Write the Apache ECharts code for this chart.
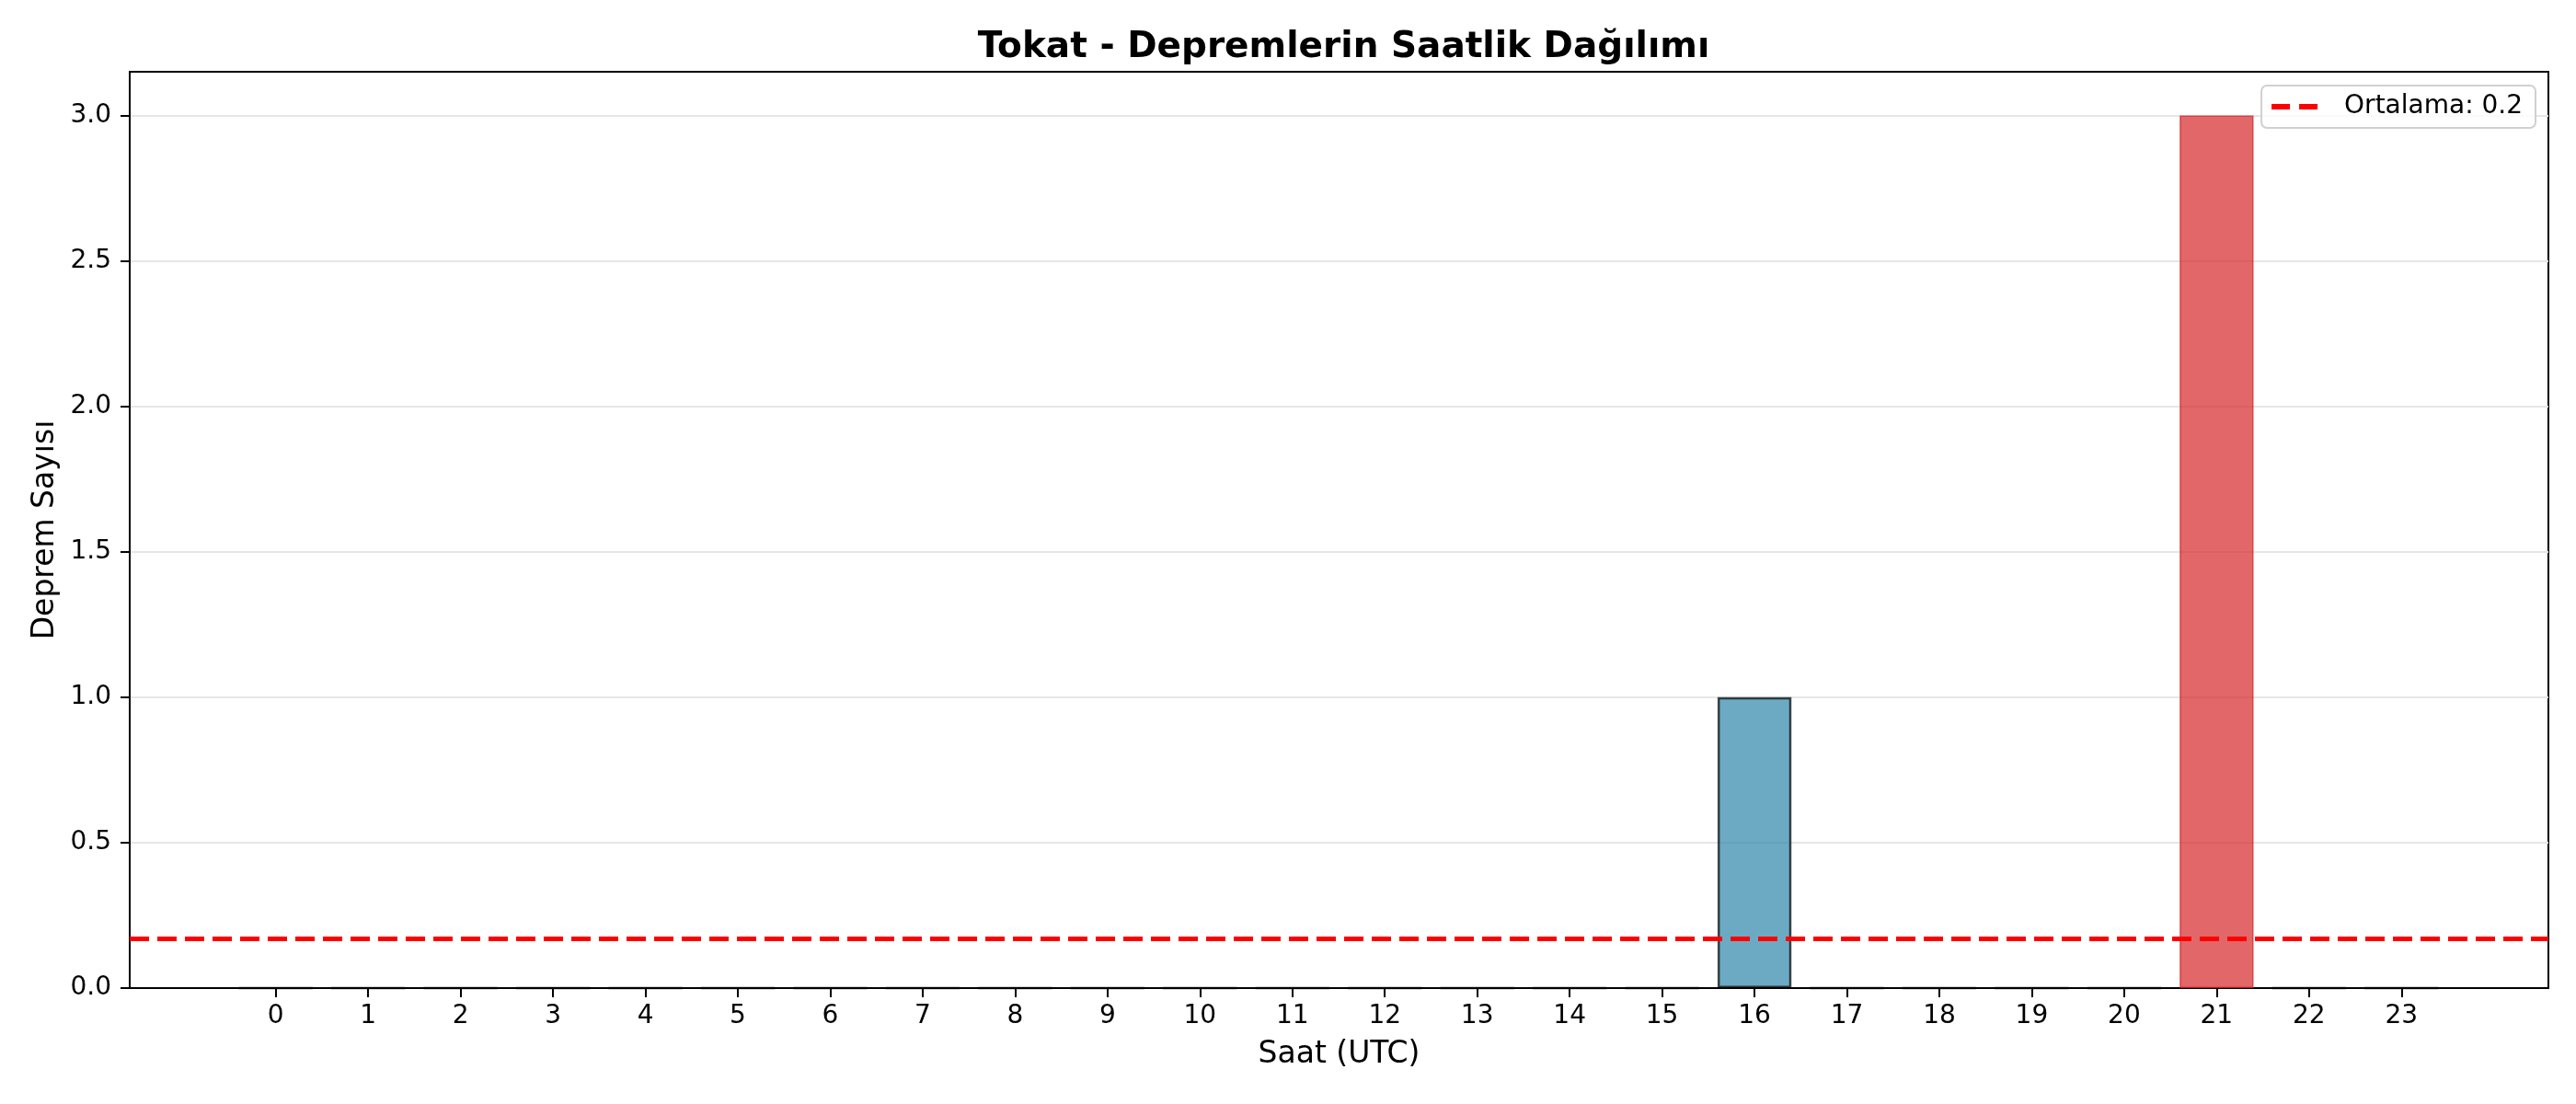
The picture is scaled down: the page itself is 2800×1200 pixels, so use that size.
<!DOCTYPE html>
<html>
<head>
<meta charset="utf-8">
<script src="https://cdn.jsdelivr.net/npm/echarts@6/dist/echarts.min.js"></script>
<style>
  html, body { margin: 0; padding: 0; background: #ffffff; }
  #chart { width: 2800px; height: 1200px; }
</style>
</head>
<body>
<div id="chart"></div>
<script>
// ---- data ----
const titleText = 'Tokat - Depremlerin Saatlik Dağılımı';
const xAxisName = 'Saat (UTC)';
const yAxisName = 'Deprem Sayısı';
const hours = [0,1,2,3,4,5,6,7,8,9,10,11,12,13,14,15,16,17,18,19,20,21,22,23];
const counts = [0,0,0,0,0,0,0,0,0,0,0,0,0,0,0,0,1,0,0,0,0,3,0,0];
const meanValue = 4 / 24;
const meanLabel = 'Ortalama: 0.2';
const yTicks = [0, 0.5, 1.0, 1.5, 2.0, 2.5, 3.0];

// ---- styles ----
const FONT = 'DejaVu Sans';
const X_MIN = -1.58, X_MAX = 24.59;
const GRID = { left: 141, right: 30, top: 78, bottom: 126 };
const plotW = 2800 - GRID.left - GRID.right;
const barPx = 0.8 * plotW / (X_MAX - X_MIN);
const maxCount = Math.max(...counts);

const normalStyle = { color: 'rgba(46,134,171,0.7)', borderColor: 'rgba(0,0,0,0.7)', borderWidth: 2.5 };
const maxStyle = { color: 'rgba(214,39,40,0.7)', borderColor: 'rgba(214,39,40,0.75)', borderWidth: 1.5 };

const barData = hours.map((h, i) => ({
  value: [h, counts[i]],
  itemStyle: counts[i] === maxCount ? maxStyle : normalStyle
}));

const dashIcon = 'path://M0,0H20V6H0Z M30,0H50V6H30Z';

const chart = echarts.init(document.getElementById('chart'), null, { renderer: 'canvas' });
chart.setOption({
  backgroundColor: '#ffffff',
  animation: false,
  title: {
    text: titleText,
    left: GRID.left + plotW / 2,
    textAlign: 'center',
    top: 27,
    textStyle: { fontFamily: FONT, fontSize: 39, fontWeight: 'bold', color: '#000' }
  },
  legend: {
    right: 44,
    top: 93,
    orient: 'vertical',
    data: [{ name: meanLabel, icon: dashIcon, itemStyle: { color: '#ff0000' } }],
    itemWidth: 50,
    itemHeight: 6,
    padding: [9, 14, 9, 11],
    borderColor: '#d0d0d0',
    borderWidth: 2,
    borderRadius: 6,
    backgroundColor: 'rgba(255,255,255,0.8)',
    textStyle: { fontFamily: FONT, fontSize: 28, color: '#000', padding: [0, 0, 0, 24] }
  },
  grid: {
    left: GRID.left, right: GRID.right, top: GRID.top, bottom: GRID.bottom,
    show: true, borderColor: '#000', borderWidth: 2, backgroundColor: 'transparent'
  },
  xAxis: {
    type: 'value',
    min: X_MIN,
    max: X_MAX,
    name: xAxisName,
    nameLocation: 'middle',
    nameGap: 56,
    nameTextStyle: { fontFamily: FONT, fontSize: 33, color: '#000' },
    axisLine: { show: true, onZero: false, lineStyle: { color: '#000', width: 2 } },
    axisTick: { show: true, length: 10, lineStyle: { color: '#000', width: 2 }, customValues: hours },
    axisLabel: { fontFamily: FONT, fontSize: 28, color: '#000', margin: 17, customValues: hours },
    splitLine: { show: false }
  },
  yAxis: {
    type: 'value',
    min: 0,
    max: 3.15,
    name: yAxisName,
    nameLocation: 'middle',
    nameGap: 74,
    nameTextStyle: { fontFamily: FONT, fontSize: 33, color: '#000' },
    axisLine: { show: true, onZero: false, lineStyle: { color: '#000', width: 2 } },
    axisTick: { show: true, length: 10, lineStyle: { color: '#000', width: 2 }, customValues: yTicks },
    axisLabel: {
      fontFamily: FONT, fontSize: 28, color: '#000', margin: 20,
      customValues: yTicks,
      formatter: v => v.toFixed(1)
    },
    splitLine: { show: true, lineStyle: { color: '#e6e6e6', width: 2 } }
  },
  series: [
    {
      type: 'bar',
      name: 'counts',
      data: barData,
      barWidth: barPx,
      z: 2
    },
    {
      type: 'line',
      name: meanLabel,
      data: [],
      symbol: 'none',
      showSymbol: false,
      color: '#ff0000',
      lineStyle: { color: '#ff0000', width: 5, type: [21, 9] },
      z: 5,
      markLine: {
        silent: true,
        symbol: ['none', 'none'],
        label: { show: false },
        lineStyle: { color: '#ff0000', width: 5, type: [21, 9] },
        data: [{ yAxis: meanValue }],
        z: 5
      }
    }
  ]
});
</script>
</body>
</html>
